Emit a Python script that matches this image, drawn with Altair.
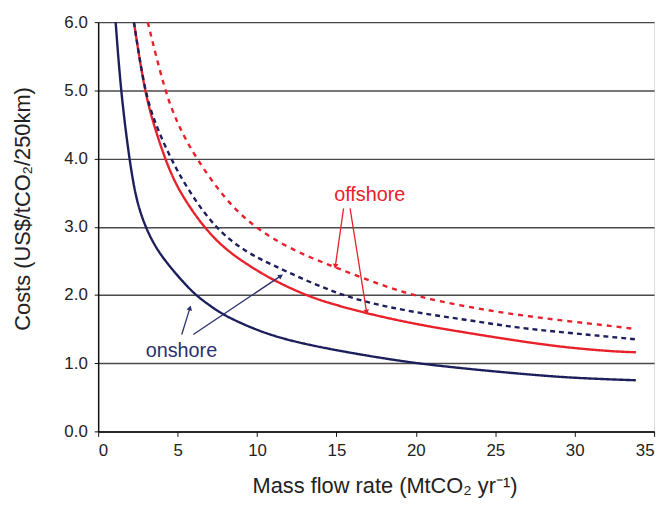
import math
import altair as alt
import pandas as pd

# ---- data ----
onshore_x = [1.1, 1.42, 1.95, 2.4, 2.97, 3.5, 4.0, 4.74, 6.0, 7.0, 7.86, 9.42, 11.0, 13.0, 15.66, 18.0, 20.0, 23.1, 26.3, 29.4, 32.5, 33.85]
onshore_y = [6.0, 5.0, 4.0, 3.38, 3.0, 2.75, 2.57, 2.35, 2.02, 1.85, 1.71, 1.54, 1.40, 1.28, 1.16, 1.07, 1.0, 0.92, 0.85, 0.79, 0.76, 0.75]

offsolid_x = [2.25, 2.91, 3.49, 4.2, 5.0, 6.6, 8.0, 9.42, 10.98, 13.2, 15.0, 16.9, 20.0, 23.1, 26.3, 29.4, 32.5, 33.85]
offsolid_y = [6.0, 5.0, 4.5, 4.0, 3.55, 3.0, 2.67, 2.44, 2.22, 1.98, 1.85, 1.73, 1.57, 1.45, 1.33, 1.23, 1.17, 1.16]

ondash_x = [2.25, 2.91, 3.6, 4.57, 5.5, 7.34, 9.42, 10.98, 13.0, 15.0, 16.9, 20.0, 23.1, 26.3, 29.4, 32.5, 33.85]
ondash_y = [6.0, 5.0, 4.5, 4.0, 3.6, 2.97, 2.61, 2.44, 2.22, 2.03, 1.89, 1.74, 1.64, 1.52, 1.45, 1.38, 1.35]

offdot_x = [3.12, 4.18, 5.0, 6.16, 8.0, 9.42, 10.98, 13.0, 15.0, 17.5, 20.0, 23.1, 26.3, 29.4, 32.5, 33.85]
offdot_y = [6.0, 5.0, 4.5, 4.0, 3.40, 3.08, 2.82, 2.58, 2.40, 2.17, 1.98, 1.83, 1.71, 1.62, 1.54, 1.50]

series_names = ["onshore solid", "offshore solid", "onshore dashed", "offshore dashed"]
series_colors = ["#1c1f5c", "#e8202a", "#1c1f5c", "#e8202a"]
series_dash = [[1, 0], [1, 0], [5, 4], [5, 5]]

labels_text = ["offshore", "onshore"]
labels_x = [17.1, 5.24]
labels_y = [3.46, 1.18]
labels_color = ["#e8202a", "#2a2f6e"]

arrow_x1 = [15.45, 15.86, 5.26, 5.99]
arrow_y1 = [3.27, 3.27, 1.42, 1.42]
arrow_x2 = [14.93, 16.9, 5.78, 11.5]
arrow_y2 = [2.42, 1.75, 1.81, 2.28]
arrow_color = ["#e8202a", "#e8202a", "#2a2f6e", "#2a2f6e"]

W, H = 561, 413
XMAX, YMAX = 35, 6

rows = []
for name, xs, ys in zip(series_names, [onshore_x, offsolid_x, ondash_x, offdot_x],
                        [onshore_y, offsolid_y, ondash_y, offdot_y]):
    for i, (a, b) in enumerate(zip(xs, ys)):
        rows.append({"series": name, "x": a, "y": b, "order": i})
df = pd.DataFrame(rows)

sx, sy = W / XMAX, H / YMAX
angles = []
for a1, b1, a2, b2 in zip(arrow_x1, arrow_y1, arrow_x2, arrow_y2):
    dx = (a2 - a1) * sx
    dy = -(b2 - b1) * sy
    angles.append(math.degrees(math.atan2(dx, -dy)) % 360)
arrows = pd.DataFrame({"x1": arrow_x1, "y1": arrow_y1, "x2": arrow_x2, "y2": arrow_y2,
                       "c": arrow_color, "ang": angles})
labels = pd.DataFrame({"t": labels_text, "x": labels_x, "y": labels_y, "c": labels_color})

xscale = alt.Scale(domain=[0, XMAX], nice=False)
yscale = alt.Scale(domain=[0, YMAX], nice=False)

xaxis = alt.Axis(values=[0, 5, 10, 15, 20, 25, 30, 35], title="Mass flow rate (MtCO₂ yr⁻¹)",
                 grid=False, labelFontSize=17, titleFontSize=22, titleFontWeight="normal",
                 domainColor="#111", tickColor="#111", tickSize=5, domainWidth=1.5,
                 labelColor="#222", titleColor="#222", labelPadding=6,
                 titleX=289, titleY=55, titleBaseline="middle")
yaxis = alt.Axis(values=[0, 1, 2, 3, 4, 5, 6], format=".1f", title="Costs (US$/tCO₂/250km)",
                 grid=True, gridColor="#4a4a4a", gridWidth=1.5, labelFontSize=17, titleFontSize=22,
                 titleFontWeight="normal", domainColor="#111", tickColor="#111", tickSize=4,
                 domainWidth=1.5, labelColor="#222", titleColor="#222", labelPadding=7,
                 titleX=-76, titleY=188, titleBaseline="middle", titleAngle=270)

lines = alt.Chart(df).mark_line(strokeWidth=2.4, interpolate="basis").encode(
    x=alt.X("x:Q", scale=xscale, axis=xaxis),
    y=alt.Y("y:Q", scale=yscale, axis=yaxis),
    color=alt.Color("series:N", scale=alt.Scale(domain=series_names, range=series_colors), legend=None),
    strokeDash=alt.StrokeDash("series:N", scale=alt.Scale(domain=series_names, range=series_dash), legend=None),
    order="order:Q",
    detail="series:N",
)

arrow_lines = alt.Chart(arrows).mark_rule(strokeWidth=1.3).encode(
    x="x1:Q", y="y1:Q", x2="x2:Q", y2="y2:Q",
    color=alt.Color("c:N", scale=None),
)
arrow_heads = alt.Chart(arrows).mark_point(shape="triangle-up", filled=True, size=32, opacity=1).encode(
    x="x2:Q", y="y2:Q", angle=alt.Angle("ang:Q", scale=None),
    color=alt.Color("c:N", scale=None),
)
texts = alt.Chart(labels).mark_text(fontSize=20, font="Liberation Sans").encode(
    x="x:Q", y="y:Q", text="t:N", color=alt.Color("c:N", scale=None),
)

chart = alt.layer(lines, arrow_lines, arrow_heads, texts).properties(
    width=W, height=H,
    autosize=alt.AutoSizeParams(type="none"),
    padding={"left": 91, "top": 12, "right": 10, "bottom": 70},
).configure_view(stroke="#555", strokeWidth=1.5).configure(
    font="Liberation Sans", background="white"
)

chart.save("out.html", embed_options={"renderer": "svg", "actions": False})
